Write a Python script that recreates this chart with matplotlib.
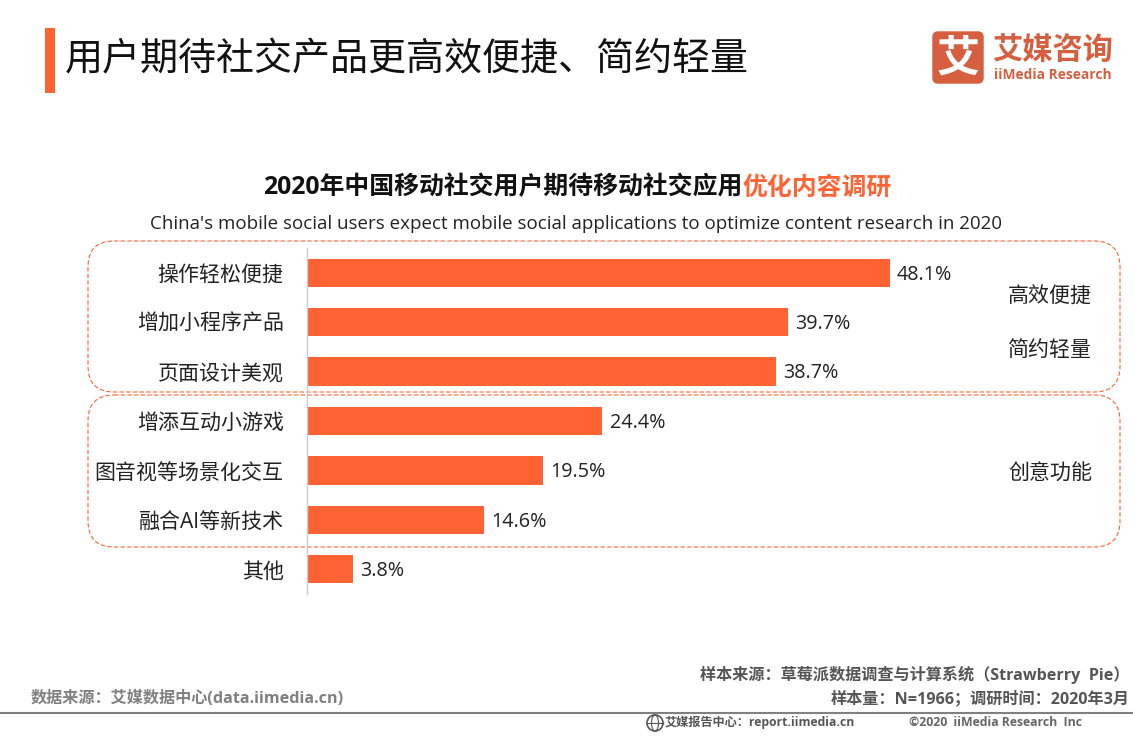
import matplotlib
matplotlib.use("Agg")
import matplotlib.pyplot as plt
from matplotlib.patches import FancyBboxPatch, Rectangle, Circle, Ellipse

FONTS = ['Open Sans', 'Noto Sans CJK SC', 'DejaVu Sans']
plt.rcParams['font.family'] = FONTS

categories = ['操作轻松便捷', '增加小程序产品', '页面设计美观', '增添互动小游戏',
              '图音视等场景化交互', '融合AI等新技术', '其他']
values = [48.1, 39.7, 38.7, 24.4, 19.5, 14.6, 3.8]

ORANGE = '#FF6333'
LOGO = '#D65F40'
W, H = 1133, 736

fig = plt.figure(figsize=(W / 100, H / 100), dpi=100, facecolor='white')

# overlay in pixel coordinates for title block, boxes and footer
bg = fig.add_axes([0, 0, 1, 1])
bg.set_xlim(0, W)
bg.set_ylim(H, 0)
bg.axis('off')

# bars
ax = fig.add_axes([306.6 / W, 1 - 594 / H, 693 / W, 346 / H])
ax.patch.set_alpha(0)
ax.barh(range(len(values)), values, height=0.57, color=ORANGE)
ax.set_xlim(0, 693 / 12.12)
ax.set_ylim(6.5, -0.5)
ax.set_yticks(range(len(categories)))
ax.set_yticklabels(categories, fontsize=15.1, color='#222222')
ax.tick_params(axis='y', length=0, pad=16.5)
ax.set_xticks([])
for s in ['top', 'right', 'bottom']:
    ax.spines[s].set_visible(False)
ax.spines['left'].set_color('#cccccc')
ax.spines['left'].set_linewidth(1)
for i, v in enumerate(values):
    ax.annotate('%.1f%%' % v, (v, i), xytext=(5.2, -1.3), textcoords='offset points',
                va='center', ha='left', fontsize=14.2, color='#222222')

# title block
bg.add_patch(Rectangle((45, 28), 10, 65, color=ORANGE, lw=0))
bg.text(65, 60, '用户期待社交产品更高效便捷、简约轻量', fontsize=27.4, color='#111111',
        va='center', ha='left')

# logo
bg.add_patch(FancyBboxPatch((933, 32), 50, 51, boxstyle='round,pad=0,rounding_size=5',
                            fc=LOGO, ec=LOGO, lw=1))
bg.text(958, 60, '艾', fontsize=31, color='white', weight='bold', ha='center', va='center')
bg.text(992, 52, '艾媒咨询', fontsize=21.8, color=LOGO, weight='bold', ha='left', va='center')
bg.text(994, 75, 'iiMedia Research', fontsize=9.9, color=LOGO, weight='bold', ha='left', va='center')

# chart heading
bg.text(742, 188, '2020年中国移动社交用户期待移动社交应用', fontsize=17.9, weight='bold',
        color='#111111', ha='right', va='center')
bg.text(742, 188, '优化内容调研', fontsize=17.9, weight='bold', color=ORANGE, ha='left', va='center')
bg.text(576, 224, "China's mobile social users expect mobile social applications to optimize content research in 2020",
        fontsize=13.5, color='#222222', ha='center', va='center')

# dashed group boxes
for top, bottom in [(241, 392), (395, 547)]:
    bg.add_patch(FancyBboxPatch((88, top), 1032, bottom - top,
                                boxstyle='round,pad=0,rounding_size=26',
                                fc='none', ec=ORANGE, lw=0.8, ls=(0, (4, 2))))
bg.text(1050, 297, '高效便捷', fontsize=15.1, color='#222222', ha='center', va='center')
bg.text(1050, 351, '简约轻量', fontsize=15.1, color='#222222', ha='center', va='center')
bg.text(1050, 474, '创意功能', fontsize=15.1, color='#222222', ha='center', va='center')

# footer
bg.plot([0, W], [712.5, 712.5], color='#808080', lw=1.5)
bg.text(31, 699, '数据来源：艾媒数据中心(data.iimedia.cn)', fontsize=11.6, color='#808080',
        weight='bold', ha='left', va='center')
bg.text(1130, 675, '样本来源：草莓派数据调查与计算系统（Strawberry  Pie）', fontsize=11.6,
        color='#555555', weight='bold', ha='right', va='center')
bg.text(1130, 699, '样本量：N=1966；调研时间：2020年3月', fontsize=11.6, color='#555555',
        weight='bold', ha='right', va='center')
bg.add_patch(Circle((655, 723), 8, fc='none', ec='#555555', lw=1.2))
bg.add_patch(Ellipse((655, 723), 7, 16, fc='none', ec='#555555', lw=0.8))
bg.plot([647, 663], [723, 723], color='#555555', lw=0.8)
bg.text(665, 722, '艾媒报告中心：report.iimedia.cn', fontsize=8.75, color='#555555',
        weight='bold', ha='left', va='center')
bg.text(909, 722, '©2020  iiMedia Research  Inc', fontsize=8.85, color='#666666',
        weight='bold', ha='left', va='center')

fig.savefig('out.png', dpi=100)
